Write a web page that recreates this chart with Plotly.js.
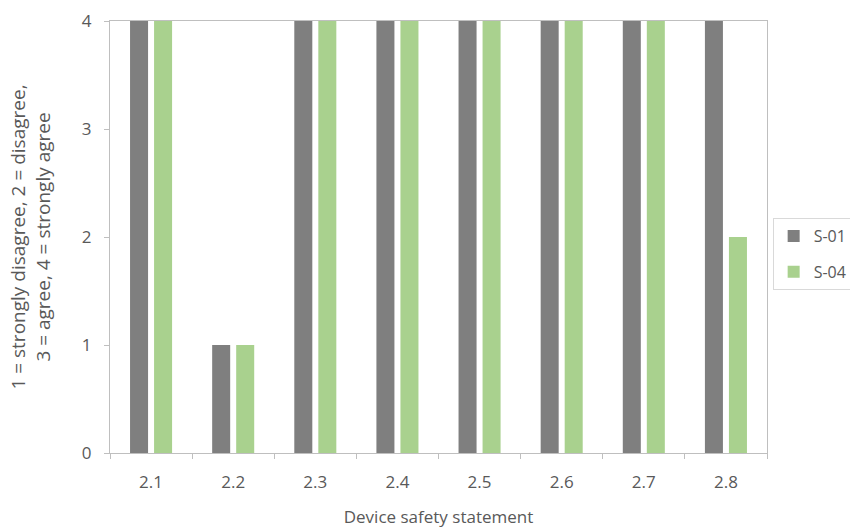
<!DOCTYPE html>
<html>
<head>
<meta charset="utf-8">
<script src="https://cdn.plot.ly/plotly-3.0.1.min.js"></script>
<style>
  html, body { margin: 0; padding: 0; background: #fff; }
  #chart { width: 850px; height: 528px; }
</style>
</head>
<body>
<div id="chart"></div>
<script>
// Device safety statements and the ratings given by each respondent
const statements = ["2.1", "2.2", "2.3", "2.4", "2.5", "2.6", "2.7", "2.8"];
const s01 = [4, 1, 4, 4, 4, 4, 4, 4];
const s04 = [4, 1, 4, 4, 4, 4, 4, 2];
const yTicks = [0, 1, 2, 3, 4];

const textColor = "#595959";
const lineColor = "#bfbfbf";
const fontFamily = "'Open Sans', 'Noto Sans', sans-serif";

const traces = [
  { type: "bar", name: "S-01", legendgroup: "s01", x: statements, y: s01, marker: { color: "#7f7f7f" } },
  { type: "bar", name: "S-04", legendgroup: "s04", x: statements, y: s04, marker: { color: "#a9d18e" } }
];

const layout = {
  width: 850,
  height: 528,
  margin: { l: 110, r: 83, t: 21, b: 75 },
  paper_bgcolor: "#ffffff",
  plot_bgcolor: "#ffffff",
  font: { family: fontFamily, color: textColor, size: 16 },
  barmode: "group",
  bargap: 0.415,
  bargroupgap: 0.25,
  showlegend: true,
  legend: {
    xref: "container", yref: "container",
    x: 0.909, xanchor: "left",
    y: 0.587, yanchor: "top",
    bordercolor: "#d9d9d9", borderwidth: 1,
    font: { size: 16, color: textColor },
    traceorder: "grouped",
    tracegroupgap: 12,
    itemwidth: 30
  },
  xaxis: {
    type: "category",
    showgrid: false,
    showline: true, linecolor: lineColor, linewidth: 1,
    mirror: true,
    ticks: "outside", tickson: "boundaries", ticklen: 5, tickcolor: lineColor,
    ticklabelstandoff: 14,
    tickfont: { size: 17, color: textColor },
    title: { text: "Device safety statement", font: { size: 17, color: textColor }, standoff: 18 }
  },
  yaxis: {
    range: [0, 4],
    tickvals: yTicks,
    showgrid: false, zeroline: false,
    showline: true, linecolor: lineColor, linewidth: 1,
    mirror: true,
    ticks: "outside", ticklen: 5, tickcolor: lineColor,
    ticklabelstandoff: 9,
    tickfont: { size: 17, color: textColor },
    title: {
      text: "1 = strongly disagree, 2 = disagree,<br>3 = agree, 4 = strongly agree",
      font: { size: 19, color: textColor },
      standoff: 26
    }
  }
};

Plotly.newPlot("chart", traces, layout, { displayModeBar: false, staticPlot: true });
</script>
</body>
</html>
